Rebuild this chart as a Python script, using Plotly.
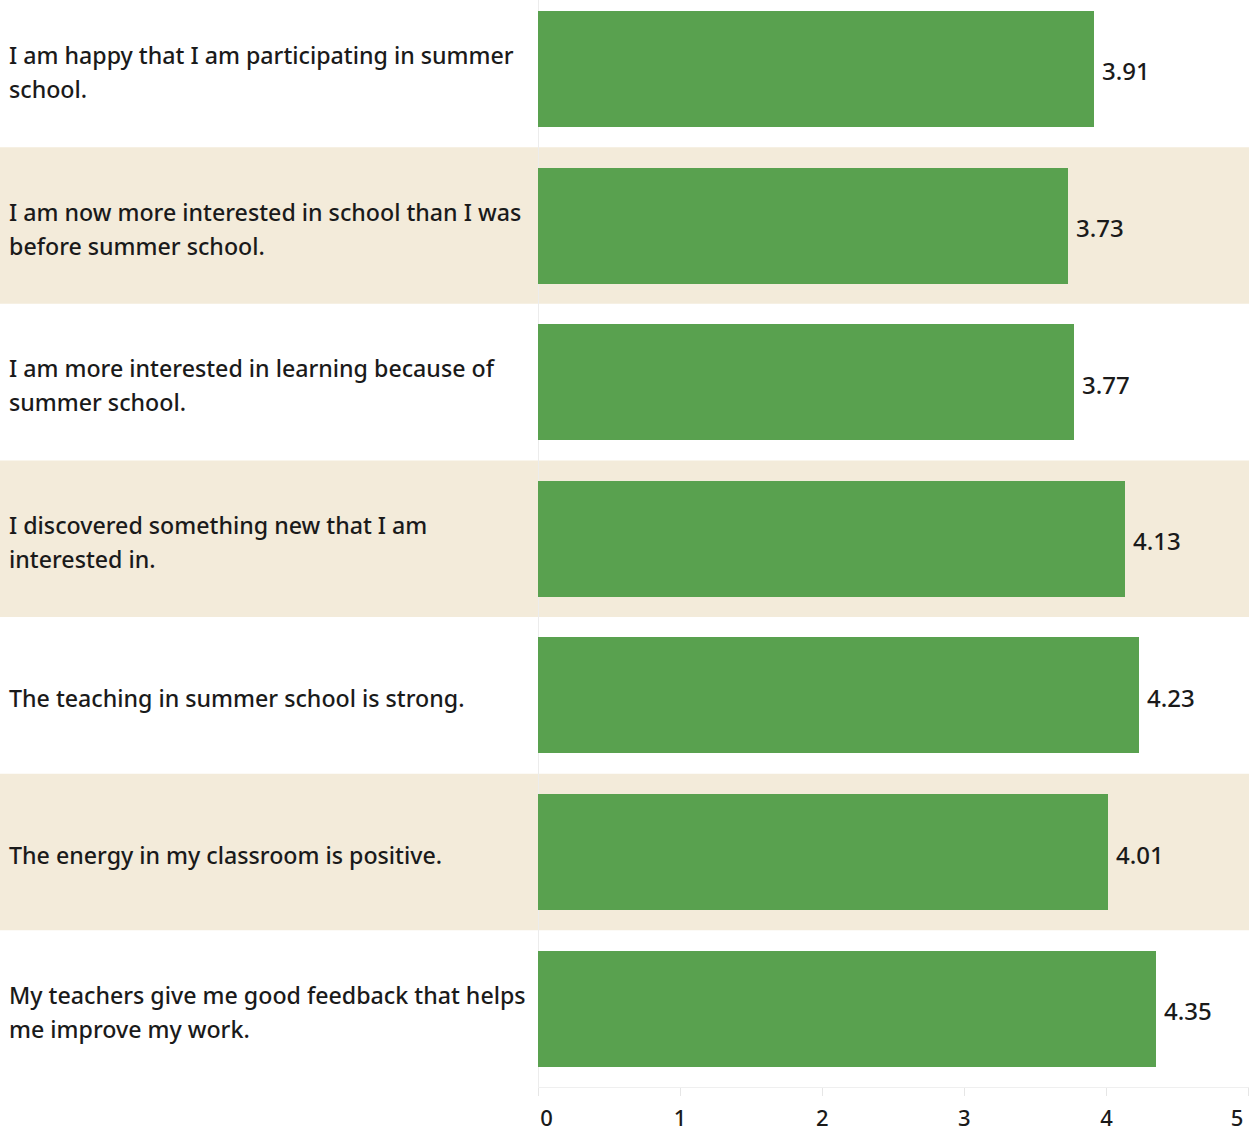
import plotly.graph_objects as go

categories = [
    ["I am happy that I am participating in summer", "school."],
    ["I am now more interested in school than I was", "before summer school."],
    ["I am more interested in learning because of", "summer school."],
    ["I discovered something new that I am", "interested in."],
    ["The teaching in summer school is strong."],
    ["The energy in my classroom is positive."],
    ["My teachers give me good feedback that helps", "me improve my work."],
]
values = [3.91, 3.73, 3.77, 4.13, 4.23, 4.01, 4.35]
tick_values = [0, 1, 2, 3, 4, 5]
tick_labels = ["\u00a0\u00a0\u00a00", "1", "2", "3", "4", "5\u00a0\u00a0\u00a0\u00a0"]

BAR = "#59A14F"
BAND = "#F3EBDA"
TEXT = "#1a1a1a"
FONT = "Noto Sans"

W, H = 1249, 1131
ML, MB = 538, 44
plot_w = W - ML

idx = list(range(len(categories)))

fig = go.Figure()
fig.add_trace(go.Bar(
    x=values, y=idx, orientation="h",
    marker=dict(color=BAR, line=dict(width=0)),
    width=0.74, hoverinfo="skip",
))

shapes = []
for i in idx:
    if i % 2 == 1:
        shapes.append(dict(type="rect", xref="paper", yref="y",
                           x0=-1, x1=1.1, y0=i - 0.5, y1=i + 0.5,
                           fillcolor=BAND, line=dict(width=0), layer="below"))

LINE_GAP = 34
annotations = []
for i, lines in enumerate(categories):
    n = len(lines)
    for k, line in enumerate(lines):
        shift = ((n - 1) / 2 - k) * LINE_GAP - 3
        annotations.append(dict(xref="paper", yref="y", x=-(ML - 7) / plot_w, y=i,
                                xanchor="left", yanchor="middle", align="left",
                                yshift=shift, text=line, showarrow=False,
                                font=dict(family=FONT, size=23.2, color=TEXT, weight=500)))
for i, v in enumerate(values):
    annotations.append(dict(xref="x", yref="y", x=v, y=i, xanchor="left",
                            yanchor="middle", xshift=6, yshift=-2, text=f"{v:.2f}",
                            showarrow=False,
                            font=dict(family=FONT, size=24, color=TEXT, weight=500)))

fig.update_layout(
    width=W, height=H,
    margin=dict(l=ML, r=0, t=0, b=MB, autoexpand=False),
    paper_bgcolor="white", plot_bgcolor="rgba(0,0,0,0)",
    showlegend=False,
    shapes=shapes, annotations=annotations,
    bargap=0,
    xaxis=dict(range=[0, 5.003], tickvals=tick_values, ticktext=tick_labels,
               automargin=False,
               showgrid=False, zeroline=True, zerolinecolor="#ececec", zerolinewidth=1,
               showline=True, linecolor="#efefef", linewidth=1,
               ticks="outside", ticklen=8, tickcolor="#e6e6e6",
               ticklabelstandoff=4, ticklabeloverflow="allow",
               tickfont=dict(family=FONT, size=22, color=TEXT, weight=500), fixedrange=True),
    yaxis=dict(range=[6.5, -0.44], showticklabels=False, showgrid=False, automargin=False,
               zeroline=False, showline=False, fixedrange=True),
)

fig.write_html("out.html", config={"displayModeBar": False},
               post_script="document.body.style.margin='0';document.body.style.overflow='hidden';")
